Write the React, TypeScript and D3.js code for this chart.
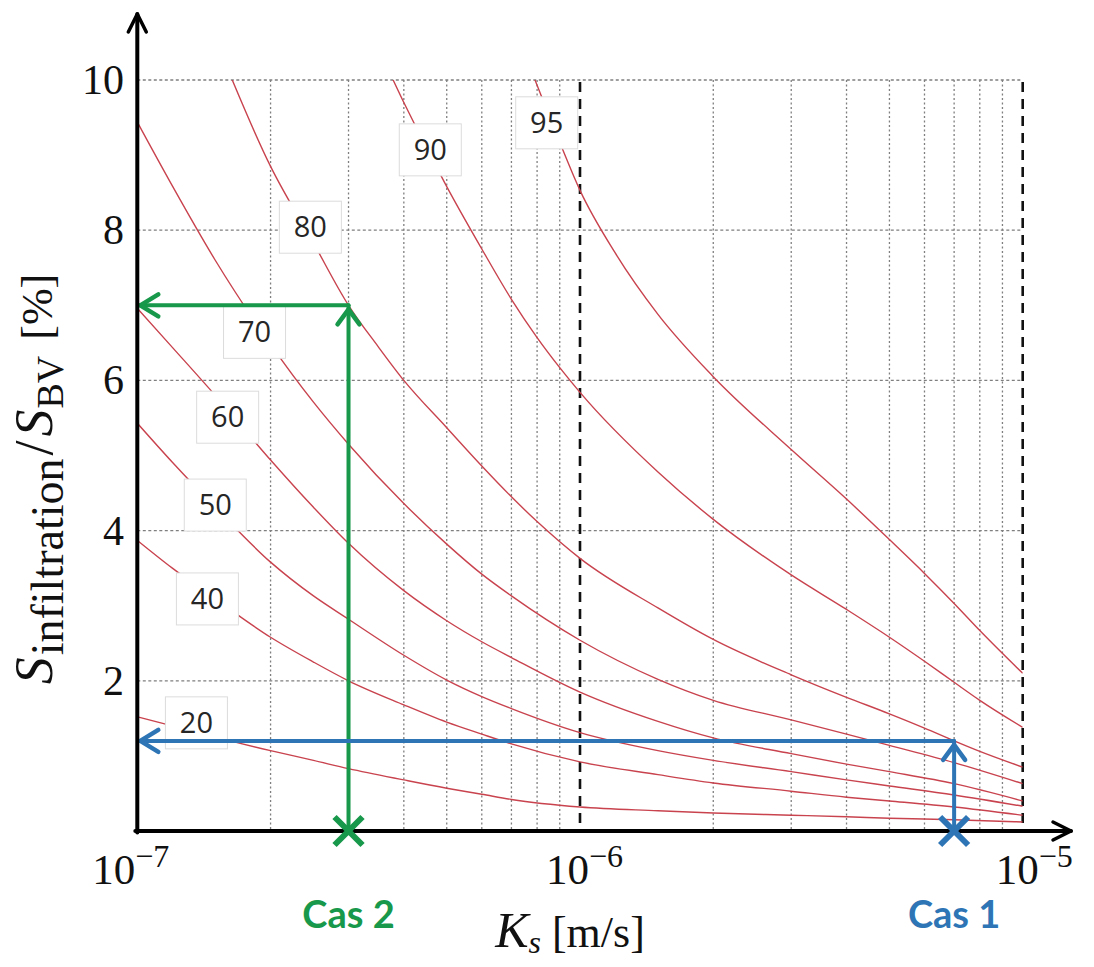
import React from "react";
import * as d3 from "d3";

// ---------- DATA ----------
const kLow = [1e-7, 1.2e-7, 1.5e-7, 2e-7, 2.5e-7, 3e-7, 4e-7, 5e-7, 6e-7, 7e-7, 1e-6, 1.5e-6, 2e-6, 3e-6, 4e-6, 5e-6, 7e-6, 1e-5];
const s20 = [1.52, 1.4, 1.25, 1.07, 0.94, 0.83, 0.68, 0.57, 0.49, 0.42, 0.32, 0.27, 0.24, 0.21, 0.19, 0.17, 0.15, 0.12];
const s40 = [3.87, 3.5, 3.09, 2.58, 2.25, 2.0, 1.68, 1.45, 1.29, 1.16, 0.92, 0.75, 0.64, 0.53, 0.45, 0.4, 0.32, 0.21];
const s50 = [5.43, 4.91, 4.31, 3.58, 3.13, 2.82, 2.34, 2.01, 1.79, 1.63, 1.31, 1.07, 0.94, 0.79, 0.68, 0.6, 0.48, 0.33];
const s60 = [6.96, 6.44, 5.8, 4.94, 4.31, 3.83, 3.2, 2.8, 2.52, 2.31, 1.85, 1.46, 1.24, 1.03, 0.89, 0.79, 0.63, 0.4];
const s70 = [9.44, 8.59, 7.6, 6.48, 5.71, 5.15, 4.36, 3.82, 3.42, 3.13, 2.54, 2.02, 1.74, 1.48, 1.29, 1.14, 0.91, 0.63];

const k80 = [1.5e-7, 2e-7, 2.5e-7, 3e-7, 3.5e-7, 4e-7, 5e-7, 6e-7, 7e-7, 8e-7, 1e-6, 1.5e-6, 2e-6, 3e-6, 4e-6, 5e-6, 6e-6, 7e-6, 8e-6, 1e-5];
const s80 = [10.55, 8.85, 7.83, 7.0, 6.45, 6.0, 5.37, 4.86, 4.45, 4.12, 3.63, 2.97, 2.55, 2.08, 1.78, 1.56, 1.37, 1.2, 1.06, 0.85];

const k90 = [3.5e-7, 4e-7, 5e-7, 6e-7, 7e-7, 8e-7, 9e-7, 1e-6, 1.5e-6, 2e-6, 3e-6, 4e-6, 5e-6, 6e-6, 7e-6, 8e-6, 1e-5];
const s90 = [10.43, 9.7, 8.58, 7.75, 7.08, 6.57, 6.17, 5.84, 4.78, 4.15, 3.41, 2.95, 2.58, 2.26, 1.98, 1.74, 1.38];

const k95 = [7e-7, 8e-7, 9e-7, 1e-6, 1.2e-6, 1.5e-6, 2e-6, 3e-6, 4e-6, 5e-6, 6e-6, 7e-6, 8e-6, 1e-5];
const s95 = [10.8, 9.93, 9.17, 8.53, 7.7, 6.88, 6.05, 5.08, 4.42, 3.88, 3.43, 3.03, 2.67, 2.1];

// contour level labels: level, K position, S position
const labelLevels = [95, 90, 80, 70, 60, 50, 40, 20];
const labelK = [8.41e-7, 4.59e-7, 2.46e-7, 1.84e-7, 1.6e-7, 1.5e-7, 1.44e-7, 1.36e-7];
const labelS = [9.43, 9.07, 8.04, 6.64, 5.51, 4.34, 3.09, 1.44];

// cases: name, K, S
const caseNames = ["Cas 2", "Cas 1"];
const caseK = [3e-7, 7e-6];
const caseS = [7.0, 1.2];
const caseColors = ["#17984a", "#2e75b6"];

const yTicks = [2, 4, 6, 8, 10];
const xTicks = [1e-7, 1e-6, 1e-5];
const xTickExp = ["\u22127", "\u22126", "\u22125"];
const minorK = [2e-7, 3e-7, 4e-7, 5e-7, 6e-7, 7e-7, 8e-7, 9e-7, 2e-6, 3e-6, 4e-6, 5e-6, 6e-6, 7e-6, 8e-6, 9e-6];
const majorK = [1e-6, 1e-5];

// ---------- CHART ----------
export default function App() {
  const x = d3.scaleLog().domain([1e-7, 1e-5]).range([137.3, 1022.7]);
  const y = d3.scaleLinear().domain([0, 10]).range([831, 80]);
  const x0 = x(1e-7), x1 = x(1e-5), y0 = y(0), y1 = y(10);

  const line = d3
    .line<[number, number]>()
    .x((d) => x(d[0]))
    .y((d) => y(d[1]))
    .curve(d3.curveMonotoneX);

  const curves: [number, number][][] = [
    kLow.map((k, i) => [k, s20[i]] as [number, number]),
    kLow.map((k, i) => [k, s40[i]] as [number, number]),
    kLow.map((k, i) => [k, s50[i]] as [number, number]),
    kLow.map((k, i) => [k, s60[i]] as [number, number]),
    kLow.map((k, i) => [k, s70[i]] as [number, number]),
    k80.map((k, i) => [k, s80[i]] as [number, number]),
    k90.map((k, i) => [k, s90[i]] as [number, number]),
    k95.map((k, i) => [k, s95[i]] as [number, number]),
  ];

  const red = "#c8434e";
  const serif = "'Liberation Serif', 'Times New Roman', serif";
  const gridColor = "#7f7f7f";
  const xTickDx = [-45, -34, -27];

  return (
    <svg
      width={1094}
      height={967}
      viewBox="0 0 1094 967"
      style={{ position: "absolute", left: 0, top: 0, display: "block", background: "#fff" }}
    >
      <defs>
        <clipPath id="plotClip">
          <rect x={x0} y={y1} width={x1 - x0} height={y0 - y1} />
        </clipPath>
      </defs>
      <rect x={0} y={0} width={1094} height={967} fill="#fff" />

      {/* horizontal grid */}
      {yTicks.map((v) => (
        <line key={"hg" + v} x1={x0} x2={x1} y1={y(v)} y2={y(v)} stroke={gridColor} strokeWidth={1.3} strokeDasharray="3,2.5" />
      ))}
      {/* minor vertical grid */}
      {minorK.map((k) => (
        <line key={"vg" + k} x1={x(k)} x2={x(k)} y1={y1} y2={y0} stroke={gridColor} strokeWidth={1.3} strokeDasharray="2,2.5" />
      ))}
      {/* major dashed decades */}
      {majorK.map((k) => (
        <line key={"mg" + k} x1={x(k)} x2={x(k)} y1={y1 + 2} y2={y0} stroke="#111" strokeWidth={2.6} strokeDasharray="10,7" />
      ))}

      {/* curves */}
      <g clipPath="url(#plotClip)">
        {curves.map((c, i) => (
          <path key={"c" + i} d={line(c) || ""} fill="none" stroke={red} strokeWidth={1.4} />
        ))}
      </g>

      {/* level labels */}
      {labelLevels.map((lv, i) => {
        const cx = x(labelK[i]);
        const cy = y(labelS[i]);
        return (
          <g key={"lb" + lv}>
            <rect x={cx - 31} y={cy - 26} width={62} height={52} fill="#fff" stroke="#dcdcdc" strokeWidth={1} />
            <text x={cx} y={cy + 10} textAnchor="middle" fontFamily="'Open Sans', sans-serif" fontSize={29} fill="#262626">
              {lv}
            </text>
          </g>
        );
      })}

      {/* case arrows */}
      {caseNames.map((nm, i) => {
        const cx = x(caseK[i]);
        const cy = y(caseS[i]);
        const col = caseColors[i];
        return (
          <g key={"case" + i} stroke={col} fill="none" strokeLinecap="round" strokeLinejoin="round">
            <line x1={cx} y1={y0} x2={cx} y2={cy} strokeWidth={4} />
            <line x1={cx} y1={cy} x2={x0 + 2} y2={cy} strokeWidth={4} />
            <path d={`M${cx - 11},${cy + 19} L${cx},${cy + 4} L${cx + 11},${cy + 19}`} strokeWidth={4.5} />
            <path d={`M${x0 + 21},${cy - 11} L${x0 + 3},${cy} L${x0 + 21},${cy + 11}`} strokeWidth={4.5} />
          </g>
        );
      })}

      {/* axes */}
      <g stroke="#000" fill="none" strokeLinecap="round" strokeLinejoin="round">
        <line x1={x0} y1={y0 + 1.5} x2={x0} y2={14} strokeWidth={4} />
        <path d={`M${x0 - 9},${32} L${x0},${14} L${x0 + 9},${32}`} strokeWidth={3.5} />
        <line x1={x0 - 2} y1={y0} x2={1071} y2={y0} strokeWidth={4} />
        <path d={`M${1053},${y0 - 9} L${1071},${y0} L${1053},${y0 + 9}`} strokeWidth={3.5} />
      </g>

      {/* case X markers and labels */}
      {caseNames.map((nm, i) => {
        const cx = x(caseK[i]);
        const col = caseColors[i];
        return (
          <g key={"mk" + i}>
            <path
              d={`M${cx - 14},${y0 - 14} L${cx + 14},${y0 + 14} M${cx - 14},${y0 + 14} L${cx + 14},${y0 - 14}`}
              stroke={col}
              strokeWidth={6}
              strokeLinecap="butt"
            />
            <text x={cx} y={928} textAnchor="middle" fontFamily="Lato, 'Open Sans', sans-serif" fontWeight={700} fontSize={38} fill={col}>
              {nm}
            </text>
          </g>
        );
      })}

      {/* y tick labels */}
      {yTicks.map((v) => (
        <text key={"yt" + v} x={124} y={y(v) + 14} textAnchor="end" fontFamily={serif} fontSize={42} fill="#111">
          {v}
        </text>
      ))}

      {/* x tick labels */}
      {xTicks.map((k, i) => (
        <text key={"xt" + k} x={x(k) + xTickDx[i]} y={884} fontFamily={serif} fill="#111">
          <tspan fontSize={43}>10</tspan>
          <tspan fontSize={32} dy={-17}>{xTickExp[i]}</tspan>
        </text>
      ))}

      {/* x axis title */}
      <text x={570} y={947} textAnchor="middle" fontFamily={serif} fill="#111">
        <tspan fontStyle="italic" fontSize={50}>K</tspan>
        <tspan fontStyle="italic" fontSize={32} dy={6}>s</tspan>
        <tspan fontSize={44} dy={-6}>{" [m/s]"}</tspan>
      </text>

      {/* y axis title */}
      <text transform="translate(52,479) rotate(-90)" textAnchor="middle" fontFamily={serif} fill="#111">
        <tspan fontStyle="italic" fontSize={54}>S</tspan>
        <tspan fontSize={46} dx={2} dy={11}>infiltration</tspan>
        <tspan fontSize={54} dx={3} dy={-11}>/</tspan>
        <tspan fontStyle="italic" fontSize={54} dx={4}>S</tspan>
        <tspan fontSize={38} dx={1} dy={11}>BV</tspan>
        <tspan fontSize={44} dx={16} dy={-11}>[%]</tspan>
      </text>
    </svg>
  );
}
